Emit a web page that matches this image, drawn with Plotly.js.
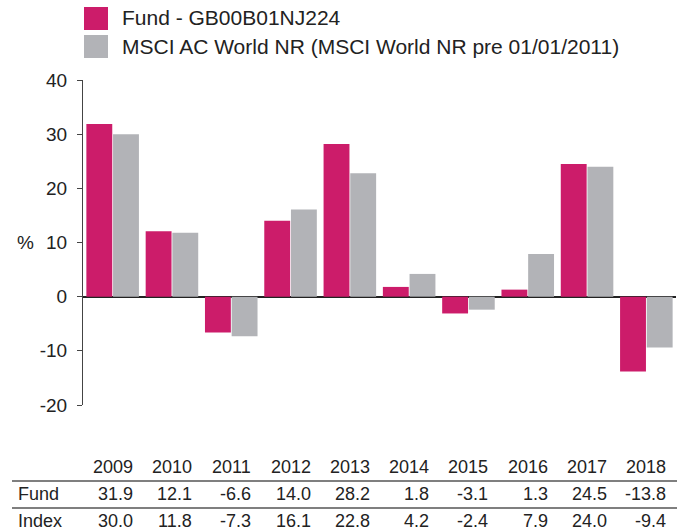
<!DOCTYPE html>
<html>
<head>
<meta charset="utf-8">
<script src="https://cdn.plot.ly/plotly-3.0.1.min.js"></script>
<style>html,body{margin:0;padding:0;background:#fff;}#chart{width:682px;height:531px;}</style>
</head>
<body>
<div id="chart"></div>
<script>
var years = ['2009','2010','2011','2012','2013','2014','2015','2016','2017','2018'];
var fundValues = [31.9, 12.1, -6.6, 14.0, 28.2, 1.8, -3.1, 1.3, 24.5, -13.8];
var indexValues = [30.0, 11.8, -7.3, 16.1, 22.8, 4.2, -2.4, 7.9, 24.0, -9.4];
var fundName = 'Fund - GB00B01NJ224';
var indexName = 'MSCI AC World NR (MSCI World NR pre 01/01/2011)';
var rowLabels = ['Fund', 'Index'];
var yTickVals = [-20, -10, 0, 10, 20, 30, 40];
var yTickText = ['-20', '-10', '0', '10', '20', '30', '40'];

var FUND_COLOR = '#CC1C6A';
var INDEX_COLOR = '#B2B3B7';
var FONT = 'Liberation Sans, Arial, sans-serif';

var L = 83, R = 676, T = 80, B = 405;
function px(x){ return (x - L) / (R - L); }
function py(y){ return (B - y) / (B - T); }

var traces = [
  {type:'bar', x: years, y: fundValues, name: fundName, marker:{color: FUND_COLOR}, showlegend:false, hoverinfo:'x+y'},
  {type:'bar', x: years, y: indexValues, name: indexName, marker:{color: INDEX_COLOR}, showlegend:false, hoverinfo:'x+y'}
];

var annotations = [];
var shapes = [];

// legend
[[fundName, FUND_COLOR, 7, 30, 18], [indexName, INDEX_COLOR, 35, 58, 46]].forEach(function(it){
  shapes.push({type:'rect', xref:'paper', yref:'paper', x0:px(84), x1:px(108), y0:py(it[3]), y1:py(it[2]), fillcolor: it[1], line:{width:0}});
  annotations.push({xref:'paper', yref:'paper', x:px(120), y:py(it[4]), xanchor:'left', yanchor:'middle', text: it[0], showarrow:false, font:{family:FONT, size:21, color:'#222'}});
});

// % label
annotations.push({xref:'paper', yref:'y', x:px(25), y:10, xanchor:'center', yanchor:'middle', text:'%', showarrow:false, font:{family:FONT, size:19, color:'#222'}});

// table
var rowY = [467, 494, 521];
years.forEach(function(yr, i){
  annotations.push({xref:'x', yref:'paper', x: i, xshift: 22, y: py(rowY[0]), xanchor:'right', yanchor:'middle', text: yr, showarrow:false, font:{family:FONT, size:18, color:'#222'}});
  annotations.push({xref:'x', yref:'paper', x: i, xshift: 22, y: py(rowY[1]), xanchor:'right', yanchor:'middle', text: fundValues[i].toFixed(1), showarrow:false, font:{family:FONT, size:18, color:'#222'}});
  annotations.push({xref:'x', yref:'paper', x: i, xshift: 22, y: py(rowY[2]), xanchor:'right', yanchor:'middle', text: indexValues[i].toFixed(1), showarrow:false, font:{family:FONT, size:18, color:'#222'}});
});
rowLabels.forEach(function(lab, j){
  annotations.push({xref:'paper', yref:'paper', x: px(16), y: py(rowY[j+1]), xanchor:'left', yanchor:'middle', text: lab, showarrow:false, font:{family:FONT, size:18, color:'#222'}});
});
[481, 508].forEach(function(yy){
  shapes.push({type:'line', xref:'paper', yref:'paper', x0:px(12), x1:px(677), y0:py(yy), y1:py(yy), line:{color:'#555', width:1.5}});
});

var layout = {
  width: 682, height: 531,
  margin: {l: L, r: 682 - R, t: T, b: 531 - B, pad: 0},
  paper_bgcolor: '#fff', plot_bgcolor: '#fff',
  barmode: 'group', bargap: 0.1, bargroupgap: 0.03,
  font: {family: FONT, size: 16, color: '#222'},
  xaxis: {type:'category', showticklabels:false, showline:false, ticks:'', showgrid:false, zeroline:false, range:[-0.5, 9.5], fixedrange:true},
  yaxis: {range:[-20, 40], tickvals: yTickVals, ticktext: yTickText, showline:true, linecolor:'#444', linewidth:1,
          ticks:'outside', ticklen:5, tickcolor:'#444', tickwidth:1, showgrid:false,
          zeroline:true, zerolinecolor:'#222', zerolinewidth:2, ticklabelstandoff:6,
          tickfont:{family:FONT, size:19, color:'#222'}, fixedrange:true},
  annotations: annotations,
  shapes: shapes,
  showlegend: false
};

Plotly.newPlot('chart', traces, layout, {displayModeBar:false, staticPlot:true});
</script>
</body>
</html>
